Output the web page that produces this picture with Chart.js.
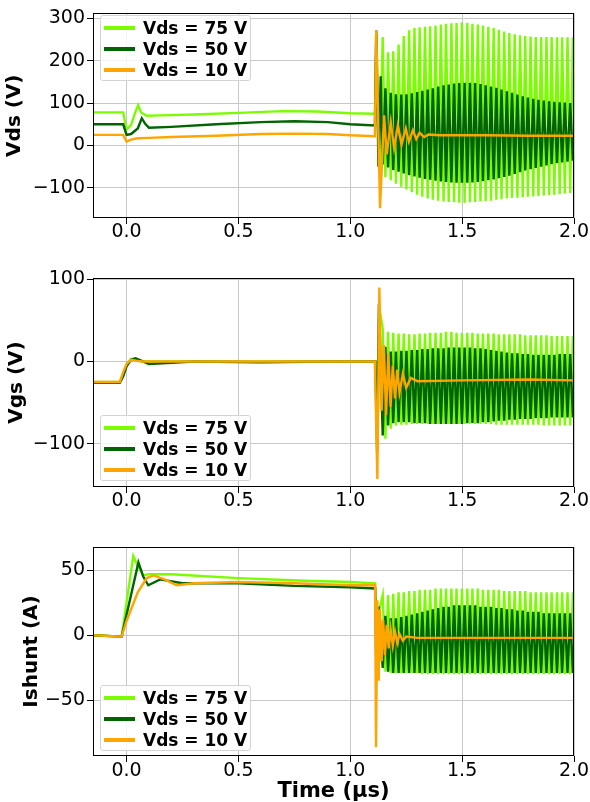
<!DOCTYPE html>
<html>
<head>
<meta charset="utf-8">
<script src="https://cdn.jsdelivr.net/npm/chart.js@4.4.0/dist/chart.umd.min.js"></script>
<style>
  body { margin: 0; background: #fff; }
  #wrap { position: relative; width: 590px; height: 802px; overflow: hidden; }
  #wrap canvas { position: absolute; left: 0; }
  .legend { position: absolute; left: 100px; width: 149px; height: 64px; border: 1px solid #d4d4d4;
            border-radius: 3px; background: rgba(255,255,255,0.8); font: bold 17px 'DejaVu Sans'; color: #000; }
  .legend .row { position: absolute; left: 0; height: 20px; width: 100%; }
  .legend .swatch { position: absolute; left: 3px; top: 8px; width: 31px; height: 4px; }
  .legend .txt { position: absolute; left: 42px; top: 0; line-height: 20px; white-space: nowrap; }
</style>
</head>
<body>
<div id="wrap">
  <canvas id="cVds" width="590" height="262" style="top:0px"></canvas>
  <canvas id="cVgs" width="590" height="270" style="top:262px"></canvas>
  <canvas id="cIsh" width="590" height="270" style="top:532px"></canvas>
</div>
<script>
const labels = ['Vds = 75 V', 'Vds = 50 V', 'Vds = 10 V'];
const colors = ['#7cfc00', '#006400', '#ffa500'];
const xTicks = [0, 0.5, 1.0, 1.5, 2.0];
const vdsTicks = [-100, 0, 100, 200, 300];
const vgsTicks = [-100, 0, 100];
const ishTicks = [-50, 0, 50];

// ringing cycle times after turn-off (µs)
const ringTop = [1.145, 1.169, 1.192, 1.216, 1.239, 1.263, 1.287, 1.310, 1.334, 1.357, 1.381, 1.405, 1.428, 1.452, 1.475, 1.499, 1.523, 1.546, 1.570, 1.593, 1.617, 1.641, 1.664, 1.688, 1.711, 1.735, 1.759, 1.782, 1.806, 1.829, 1.853, 1.877, 1.900, 1.924, 1.947, 1.971, 1.995];
const ringBot = [1.157, 1.181, 1.204, 1.228, 1.251, 1.275, 1.299, 1.322, 1.346, 1.369, 1.393, 1.417, 1.440, 1.464, 1.487, 1.511, 1.535, 1.558, 1.582, 1.605, 1.629, 1.653, 1.676, 1.700, 1.723, 1.747, 1.771, 1.794, 1.818, 1.841, 1.865, 1.889, 1.912, 1.936, 1.959, 1.983, 2.007];

// Vds
const vds75T = [-0.15, -0.015, 0.0, 0.02, 0.04, 0.052, 0.065, 0.09, 0.15, 0.3, 0.5, 0.7, 0.85, 1.0, 1.11, 1.117, 1.131];
const vds75V = [78, 78, 38, 48, 80, 95, 78, 70, 71, 73, 77, 81, 80, 76, 75, 262, -60];
const vds75Hi = [256, 220, 222, 238, 258, 272, 277, 279, 280, 281, 283, 285, 287, 288, 289, 290, 289, 287, 285, 283, 280, 277, 273, 269, 265, 262, 260, 258, 257, 256, 256, 256, 256, 255, 255, 255, 255];
const vds75Lo = [-75, -82, -90, -97, -104, -110, -116, -121, -125, -128, -130, -132, -133, -134, -135, -135, -134, -133, -132, -131, -130, -128, -127, -125, -124, -123, -122, -121, -120, -119, -118, -117, -116, -115, -113, -112, -110];

const vds50T = [-0.15, -0.015, 0.0, 0.02, 0.05, 0.068, 0.085, 0.1, 0.2, 0.4, 0.6, 0.75, 0.9, 1.0, 1.11, 1.116, 1.126, 1.136];
const vds50V = [50, 50, 25, 27, 40, 64, 50, 42, 44, 50, 55, 57, 55, 50, 47, 271, -50, 163];
const vds50Lo = [-45, -52, -58, -62, -66, -70, -73, -76, -79, -81, -83, -85, -86, -87, -88, -88, -88, -87, -86, -84, -82, -80, -77, -74, -71, -67, -63, -59, -56, -53, -50, -47, -44, -42, -40, -38, -36];
const vds50Hi = [135, 124, 121, 120, 121, 123, 126, 129, 132, 135, 139, 142, 144, 146, 147, 148, 148, 147, 145, 142, 139, 136, 132, 128, 124, 120, 116, 113, 110, 108, 106, 104, 103, 102, 101, 100, 100];

const vds10T = [-0.15, -0.015, 0.0, 0.02, 0.05, 0.1, 0.2, 0.4, 0.6, 0.75, 0.9, 1.0, 1.11, 1.116, 1.133, 1.151, 1.163, 1.181, 1.196, 1.213, 1.229, 1.248, 1.262, 1.28, 1.295, 1.31, 1.33, 1.35, 1.4, 1.6, 1.8, 2.0];
const vds10V = [25, 25, 9, 14, 17, 18, 20, 23, 27, 28, 27, 24, 22, 271, -148, 71, -21, 55, -6, 48, 2, 40, 9, 36, 15, 30, 20, 26, 24, 24, 23, 23];

// Vgs
const vgs75T = [-0.15, -0.03, -0.015, 0.0, 0.02, 0.04, 0.07, 0.3, 0.6, 0.9, 1.112, 1.122, 1.132];
const vgs75V = [-25, -25, -15, -4, 3, 3, 0, 0, 0, 0, 0, -100, 62];
const vgs75Hi = [40, 36, 35, 34, 34, 33, 33, 34, 34, 35, 35, 35, 36, 36, 35, 35, 35, 35, 34, 34, 34, 34, 33, 33, 33, 33, 33, 32, 32, 32, 32, 32, 31, 31, 31, 31, 31];
const vgs75Lo = [-94, -82, -78, -77, -77, -76, -76, -76, -76, -76, -76, -76, -76, -76, -76, -76, -76, -76, -76, -76, -76, -77, -77, -77, -77, -77, -77, -77, -77, -77, -78, -78, -78, -78, -78, -78, -78];

const vgs50T = [-0.15, -0.03, -0.015, 0.0, 0.02, 0.04, 0.1, 0.3, 0.6, 0.9, 1.112, 1.12, 1.128];
const vgs50V = [-26, -26, -18, -6, 2, 4, -3, 0, -1, 0, 0, -110, 70];
const vgs50Lo = [-90, -78, -75, -74, -74, -74, -75, -75, -75, -76, -76, -76, -76, -76, -76, -76, -75, -75, -75, -74, -74, -73, -72, -72, -71, -71, -70, -70, -70, -69, -69, -69, -68, -68, -68, -68, -68];
const vgs50Hi = [18, 12, 12, 13, 13, 14, 14, 15, 15, 16, 16, 16, 17, 17, 17, 17, 17, 16, 16, 15, 14, 13, 12, 11, 10, 10, 9, 9, 8, 8, 8, 8, 8, 9, 9, 9, 9];

const vgs10T = [-0.15, -0.03, -0.015, 0.0, 0.02, 0.04, 0.07, 0.3, 0.6, 0.9, 1.11, 1.121, 1.13, 1.14, 1.15, 1.16, 1.17, 1.18, 1.19, 1.2, 1.21, 1.22, 1.235, 1.25, 1.27, 1.3, 1.5, 1.8, 2.0];
const vgs10V = [-25, -25, -13, -3, 2, 1, 0, 0, 0, 0, 0, -143, 90, -60, 20, -65, 10, -55, -5, -45, -10, -38, -15, -32, -20, -24, -23, -22, -23];

// Ishunt
const ish75T = [-0.15, -0.022, 0.03, 0.045, 0.075, 0.1, 0.2, 0.5, 0.8, 1.0, 1.111, 1.12, 1.13];
const ish75V = [0, -1, 61, 55, 46, 47, 47, 44, 42, 41, 40, -25, 20];
const ish75Hi = [31, 31, 32, 33, 33, 34, 34, 35, 35, 35, 36, 36, 36, 36, 36, 36, 36, 36, 36, 35, 35, 35, 35, 34, 34, 34, 34, 34, 33, 33, 33, 33, 33, 33, 33, 33, 33];
const ish75Lo = [-28, -29, -29, -29, -29, -29, -29, -30, -30, -30, -30, -30, -30, -30, -30, -30, -30, -30, -30, -30, -30, -30, -30, -30, -30, -30, -30, -30, -30, -30, -30, -30, -30, -30, -30, -30, -30];

const ish50T = [-0.15, -0.022, 0.053, 0.075, 0.097, 0.15, 0.25, 0.5, 0.75, 1.0, 1.111, 1.117, 1.127];
const ish50V = [0, -1, 56, 45, 38.5, 43, 40, 40, 38, 37, 36, -30, 22];
const ish50Lo = [-25, -28, -29, -29, -29, -29, -29, -29, -29, -29, -29, -29, -29, -29, -29, -29, -29, -29, -29, -29, -29, -29, -29, -29, -29, -29, -29, -29, -29, -29, -29, -29, -29, -29, -29, -29, -29];
const ish50Hi = [15, 13, 13, 14, 15, 16, 17, 18, 19, 20, 21, 22, 22, 23, 23, 23, 23, 23, 22, 22, 22, 21, 21, 20, 20, 19, 19, 18, 18, 18, 17, 17, 17, 17, 17, 17, 17];

const ish10T = [-0.15, -0.022, 0.0, 0.05, 0.09, 0.12, 0.17, 0.224, 0.3, 0.5, 0.75, 1.0, 1.111, 1.115, 1.121, 1.127, 1.133, 1.14, 1.147, 1.155, 1.163, 1.172, 1.18, 1.19, 1.2, 1.21, 1.22, 1.235, 1.25, 1.3, 1.5, 1.8, 2.0];
const ish10V = [0, -1, 11, 33, 44, 46, 43, 38.5, 40, 41, 40, 38.5, 38.5, -86, 27, -35, 20, -20, 12, -15, 8, -10, 5, -8, 3, -6, 1, -4, -1, -2, -2, -2, -2];

function series(t, v, hiT, hi, loT, lo) {
	const pts = t.map((x, i) => ({x: x, y: v[i]}));
	if (hi) {
		const ring = [];
		hiT.forEach((x, i) => ring.push({x: x, y: hi[i]}));
		loT.forEach((x, i) => ring.push({x: x, y: lo[i]}));
		ring.sort((a, b) => a.x - b.x);
		pts.push(...ring);
	}
	return pts;
}

function fmtY(v) {
	return v < 0 ? '\u2212' + Math.abs(v) : String(v);
}

const frame = {
	id: 'frame',
	afterDatasetsDraw(chart) {
		const a = chart.chartArea;
		const ctx = chart.ctx;
		ctx.save();
		ctx.strokeStyle = '#000';
		ctx.lineWidth = 1;
		ctx.strokeRect(Math.round(a.left) + 0.5, Math.round(a.top) + 0.5, Math.round(a.right - a.left) - 1, Math.round(a.bottom - a.top) - 1);
		ctx.restore();
	}
};

function makeChart(id, data, yMin, yMax, yTicks, yTitle, yTitlePad, padTop, xHeight, xTickPad, showXTitle) {
	const datasets = data.map((d, i) => ({
		label: labels[i],
		data: d,
		borderColor: colors[i],
		borderWidth: 2.4,
		pointRadius: 0,
		tension: 0,
		fill: false,
		clip: 0,
		order: 3 - i
	}));
	return new Chart(document.getElementById(id), {
		type: 'line',
		data: {datasets: datasets},
		plugins: [frame],
		options: {
			responsive: false,
			animation: false,
			devicePixelRatio: 1,
			layout: {padding: {top: padTop, right: 16, left: 0, bottom: 0}},
			plugins: {legend: {display: false}, tooltip: {enabled: false}},
			scales: {
				x: {
					type: 'linear', min: -0.15, max: 2.0,
					afterBuildTicks: s => { s.ticks = xTicks.map(v => ({value: v})); },
					afterFit: s => { s.height = xHeight; },
					ticks: {autoSkip: false, maxRotation: 0, color: '#000', padding: xTickPad,
						font: {family: 'DejaVu Sans', size: 19}, callback: v => v.toFixed(1)},
					grid: {color: '#c8c8c8', lineWidth: 1, tickLength: 6, tickColor: '#000'},
					border: {display: false},
					title: {display: showXTitle, text: 'Time (\u00b5s)', color: '#000',
						font: {family: 'DejaVu Sans', size: 21, weight: 'bold', lineHeight: 1}, padding: {top: 0, bottom: 0}}
				},
				y: {
					min: yMin, max: yMax,
					afterBuildTicks: s => { s.ticks = yTicks.map(v => ({value: v})); },
					afterFit: s => { s.width = 93; },
					ticks: {color: '#000', padding: 2, font: {family: 'DejaVu Sans', size: 19}, callback: v => fmtY(v)},
					grid: {color: '#c8c8c8', lineWidth: 1, tickLength: 6, tickColor: '#000'},
					border: {display: false},
					title: {display: true, text: yTitle, color: '#000',
						font: {family: 'DejaVu Sans', size: 20, weight: 'bold', lineHeight: 1.2}, padding: {top: yTitlePad, bottom: 0}}
				}
			}
		}
	});
}

makeChart('cVds', [
	series(vds75T, vds75V, ringTop, vds75Hi, ringBot, vds75Lo),
	series(vds50T, vds50V, ringBot, vds50Hi, ringTop, vds50Lo),
	series(vds10T, vds10V)
], -171, 311.5, vdsTicks, 'Vds (V)', 3, 9, 44, -3, false);

makeChart('cVgs', [
	series(vgs75T, vgs75V, ringTop, vgs75Hi, ringBot, vgs75Lo),
	series(vgs50T, vgs50V, ringBot, vgs50Hi, ringTop, vgs50Lo),
	series(vgs10T, vgs10V)
], -152.8, 101.6, vgsTicks, 'Vgs (V)', 5, 16, 45, -3, false);

makeChart('cIsh', [
	series(ish75T, ish75V, ringTop, ish75Hi, ringBot, ish75Lo),
	series(ish50T, ish50V, ringBot, ish50Hi, ringTop, ish50Lo),
	series(ish10T, ish10V)
], -92.8, 67.9, ishTicks, 'Ishunt (A)', 20, 15, 46, -2, true);

// legends drawn as html boxes inside each plot
[15, 415, 685].forEach(top => {
	const box = document.createElement('div');
	box.className = 'legend';
	box.style.top = top + 'px';
	labels.forEach((lab, i) => {
		const row = document.createElement('div');
		row.className = 'row';
		row.style.top = (2 + i * 20.8) + 'px';
		row.innerHTML = '<span class="swatch" style="background:' + colors[i] + '"></span><span class="txt">' + lab + '</span>';
		box.appendChild(row);
	});
	document.getElementById('wrap').appendChild(box);
});
</script>
</body>
</html>
